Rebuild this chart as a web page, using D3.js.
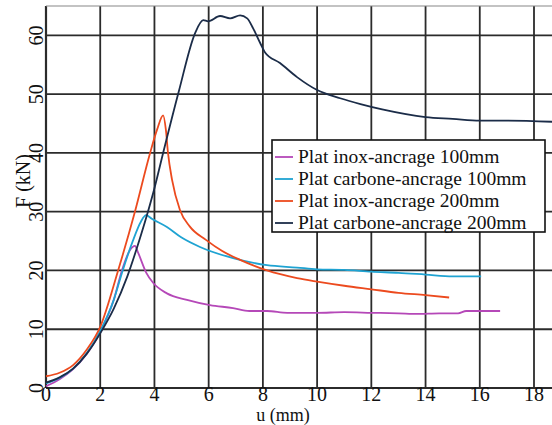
<!DOCTYPE html>
<html><head><meta charset="utf-8">
<script src="https://cdn.jsdelivr.net/npm/d3@7"></script>
<style>body{margin:0;background:#fff}svg{display:block}text{font-family:"Liberation Serif","Times New Roman",serif;fill:#111}</style>
</head><body><svg id="c" width="552" height="425"></svg>
<script>
const xTicks = [0,2,4,6,8,10,12,14,16,18];
const yTicks = [0,10,20,30,40,50,60];
const seriesNames = ["Plat inox-ancrage 100mm","Plat carbone-ancrage 100mm","Plat inox-ancrage 200mm","Plat carbone-ancrage 200mm"];
const seriesColors = ["#b548b8","#1fa3d2","#ec4a1e","#1b2c48"];
// values: [u (mm), F (kN)]
const inox100 = [[0,0.3],[0.5,1.5],[1,3.2],[1.5,5.8],[2,9.5],[2.5,15],[2.8,20],[3.1,23.5],[3.28,24.2],[3.4,23],[3.7,19.6],[3.95,17.9],[4.46,16.1],[5.2,15],[6.05,14.1],[6.9,13.6],[7.5,13.1],[8.15,13.1],[8.9,12.8],[10,12.8],[11,12.9],[12,12.8],[13,12.7],[13.7,12.6],[14.5,12.7],[15.2,12.7],[15.5,13.1],[16.75,13.1]];
const carbone100 = [[0,0.8],[0.5,1.7],[1,3.3],[1.5,5.9],[2,9.7],[2.5,15],[2.83,20],[3.2,25],[3.5,28.3],[3.69,29.4],[3.9,28.8],[4.46,27.4],[5,25.6],[5.68,24],[6.9,22.1],[8.15,20.9],[9.26,20.5],[10,20.2],[11,20.1],[12,19.8],[13,19.6],[14,19.3],[15,19.0],[16.05,19.0]];
const inox200 = [[0,2],[0.5,2.6],[1,3.9],[1.5,6.5],[2,10.4],[2.66,20],[3.28,30],[3.84,40],[4.1,44],[4.32,46.4],[4.42,44],[4.5,40],[4.65,35.4],[4.94,30.3],[5.3,27.5],[5.9,25.2],[6.5,23.3],[7.16,21.8],[8.15,20],[9.26,18.7],[10,18.1],[11,17.4],[12,16.8],[13,16.2],[14,15.8],[14.87,15.4]];
const carbone200 = [[0,0.9],[0.5,1.8],[1,3.3],[1.5,5.8],[2,9.3],[2.5,13.5],[3,19],[3.5,26],[3.76,30],[4,34],[4.32,40],[4.9,50.5],[5.5,60.4],[5.8,62.6],[5.98,62.4],[6.42,63.3],[6.79,62.9],[7.16,63.4],[7.42,62.9],[7.64,61.2],[7.9,58.7],[8.08,57.1],[8.63,55.3],[9.26,52.9],[10,50.7],[10.85,49.3],[11.6,48.3],[12.4,47.4],[14,46.1],[15,45.8],[16,45.5],[17,45.5],[18.7,45.3]];
const allSeries = [inox100, carbone100, inox200, carbone200];

const svg = d3.select("#c");
const x = d3.scaleLinear().domain([0,18]).range([46,534]);
const y = d3.scaleLinear().domain([0,65]).range([388,6]);
const gridCol = "#2b2b2b";

// grid
const g = svg.append("g");
g.selectAll(".vg").data(xTicks).join("line")
  .attr("x1",d=>x(d)).attr("x2",d=>x(d)).attr("y1",y(0)).attr("y2",y(65))
  .attr("stroke",gridCol).attr("stroke-width",d=>d===0?2.2:1.8);
g.selectAll(".hg").data(yTicks.concat([65])).join("line")
  .attr("x1",x(0)).attr("x2",552).attr("y1",d=>y(d)).attr("y2",d=>y(d))
  .attr("stroke",d=>d===65?"#888":gridCol).attr("stroke-width",d=>d===0?2.2:(d===65?1.2:1.8));

// tick labels
svg.selectAll(".xt").data(xTicks).join("text")
  .attr("x",d=>x(d)).attr("y",401).attr("text-anchor","middle")
  .attr("font-size",20).text(d=>d);
svg.selectAll(".yt").data(yTicks).join("text")
  .attr("transform",d=>`translate(43,${y(d)}) rotate(-90)`)
  .attr("text-anchor","middle").attr("font-size",20).text(d=>d);

svg.append("text").attr("x",283).attr("y",420.5).attr("text-anchor","middle")
  .attr("font-size",18).text("u (mm)");
svg.append("text").attr("transform","translate(30,181) rotate(-90)")
  .attr("text-anchor","middle").attr("font-size",20).text("F (kN)");

// lines
const line = d3.line().x(d=>x(d[0])).y(d=>y(d[1])).curve(d3.curveMonotoneX);
svg.append("g").selectAll("path").data(allSeries).join("path")
  .attr("d",line).attr("fill","none")
  .attr("stroke",(d,i)=>seriesColors[i]).attr("stroke-width",1.8);

// legend
const lg = svg.append("g");
lg.append("rect").attr("x",272).attr("y",140).attr("width",273).attr("height",92)
  .attr("fill","#fff").attr("stroke","#111").attr("stroke-width",1.6);
const rows = lg.selectAll(".r").data(seriesNames).join("g")
  .attr("transform",(d,i)=>`translate(0,${157+i*22})`);
rows.append("line").attr("x1",275).attr("x2",293).attr("y1",0).attr("y2",0)
  .attr("stroke",(d,i)=>seriesColors[i]).attr("stroke-width",1.8);
rows.append("text").attr("x",298).attr("y",6).attr("font-size",19.5).text(d=>d);
</script></body></html>
